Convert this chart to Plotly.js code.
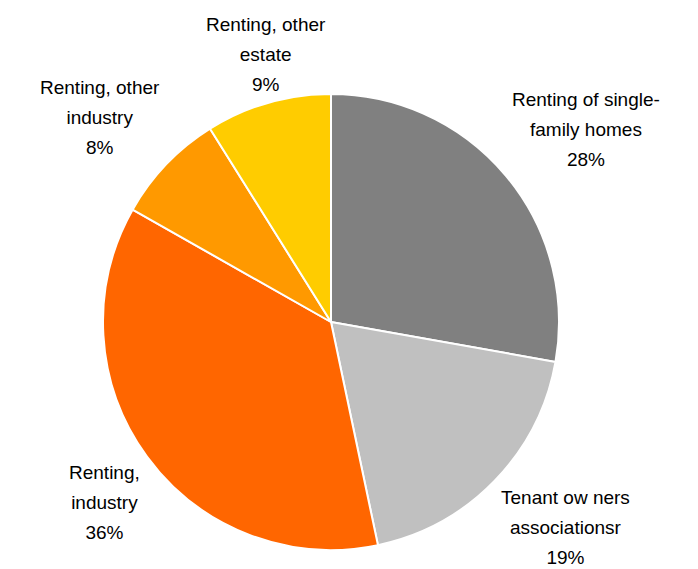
<!DOCTYPE html>
<html>
<head>
<meta charset="utf-8">
<script src="https://cdn.plot.ly/plotly-3.0.1.min.js"></script>
<style>html,body{margin:0;padding:0;background:#fff;}#chart{width:698px;height:569px;}</style>
</head>
<body>
<div id="chart"></div>
<script>
var labelLines = [["Renting of single-", "family homes"], ["Tenant ow ners", "associationsr"], ["Renting,", "industry"], ["Renting, other", "industry"], ["Renting, other", "estate"]];
var labels = labelLines.map(function (l) { return l.join(" "); });
var values = [27.8, 18.9, 36.5, 7.9, 8.9];
var shownPercent = ["28%", "19%", "36%", "8%", "9%"];
var colors = ["#808080", "#C0C0C0", "#FF6600", "#FF9900", "#FFCC00"];

var trace = {
  type: "pie",
  labels: labels,
  values: values,
  textinfo: "none",
  hoverinfo: "none",
  sort: false,
  direction: "clockwise",
  rotation: 0,
  marker: {colors: colors, line: {color: "#FFFFFF", width: 2}},
  domain: {x: [0, 1], y: [0, 1]},
  showlegend: false
};

// outside labels placed along each slice's mid-angle, just beyond the pie edge
var plotSize = 456;
var gapPx = 6;
var total = values.reduce(function (a, b) { return a + b; }, 0);
var annotations = [];
var cum = 0;
function glyphs(t) { return '<span style="font-size:19px">' + t + '</span>'; }
for (var i = 0; i < values.length; i++) {
  var mid = (cum + values[i] / 2) / total * 2 * Math.PI;
  cum += values[i];
  var s = Math.sin(mid), c = Math.cos(mid);
  var rr = 0.5 + gapPx / plotSize;
  var lines = labelLines[i].concat([shownPercent[i]]).map(glyphs);
  annotations.push({
    xref: "paper", yref: "paper",
    x: 0.5 + rr * s,
    y: 0.5 + rr * c,
    xanchor: Math.abs(s) < 0.5 ? "center" : (s > 0 ? "left" : "right"),
    yanchor: c > 0 ? "bottom" : "top",
    text: lines.join("<br>"),
    showarrow: false,
    align: "center",
    font: {family: "Liberation Sans, Arial, sans-serif", size: 23, color: "#000000"}
  });
}

var layout = {
  width: 698,
  height: 569,
  margin: {l: 103, r: 139, t: 94, b: 19},
  paper_bgcolor: "#FFFFFF",
  plot_bgcolor: "#FFFFFF",
  showlegend: false,
  annotations: annotations
};

Plotly.newPlot("chart", [trace], layout, {displayModeBar: false, staticPlot: true});
</script>
</body>
</html>
